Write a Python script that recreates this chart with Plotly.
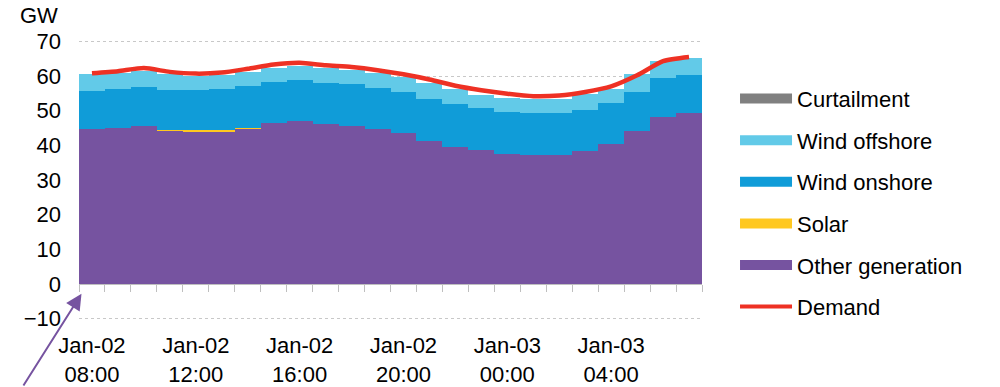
import plotly.graph_objects as go

# Hourly timestamps, Jan-02 08:00 to Jan-03 07:00
hours = [f"Jan-02 {h:02d}:00" for h in range(8, 24)] + [f"Jan-03 {h:02d}:00" for h in range(0, 8)]

# Generation by source (GW)
other_generation = [44.7, 45.0, 45.7, 44.3, 44.0, 43.9, 45.0, 46.4, 46.9, 46.3, 45.7, 44.6,
                    43.5, 41.4, 39.6, 38.8, 37.6, 37.2, 37.2, 38.4, 40.5, 44.1, 48.2, 49.4]
solar = [0.0, 0.0, 0.0, 0.2, 0.4, 0.4, 0.1, 0.0, 0.0, 0.0, 0.0, 0.0,
         0.0, 0.0, 0.0, 0.0, 0.0, 0.0, 0.0, 0.0, 0.0, 0.0, 0.0, 0.0]
wind_onshore = [11.0, 11.2, 11.2, 11.5, 11.6, 12.0, 12.0, 11.9, 11.9, 11.8, 11.9, 11.9,
                11.9, 12.1, 12.2, 11.9, 12.0, 12.2, 12.2, 11.7, 11.7, 11.2, 11.1, 10.9]
wind_offshore = [5.0, 4.6, 4.5, 4.5, 4.0, 4.0, 4.2, 4.1, 4.1, 4.3, 4.2, 4.5,
                 4.3, 4.5, 4.4, 3.9, 4.2, 4.0, 4.1, 4.6, 4.2, 5.2, 4.9, 5.0]
curtailment = [0.0] * 24
demand = [60.8, 61.4, 62.3, 61.2, 60.7, 61.0, 62.1, 63.3, 63.8, 63.1, 62.6, 61.7,
          60.5, 59.0, 57.2, 55.9, 54.9, 54.2, 54.4, 55.4, 57.0, 60.2, 64.3, 65.5]

y_ticks = [-10, 0, 10, 20, 30, 40, 50, 60, 70]
label_every = 4
tick_labels = [h.replace(" ", "<br>") for h in hours[::label_every]]

COLORS = {
    "Curtailment": "#808080",
    "Wind offshore": "#62CAE8",
    "Wind onshore": "#109CD8",
    "Solar": "#FFC820",
    "Other generation": "#7653A0",
    "Demand": "#EE3124",
}
FONT = "Arial, 'Liberation Sans', sans-serif"
FS = 22

fig = go.Figure()

stack = [
    ("Other generation", other_generation),
    ("Solar", solar),
    ("Wind onshore", wind_onshore),
    ("Wind offshore", wind_offshore),
    ("Curtailment", curtailment),
]
for name, vals in stack:
    fig.add_trace(go.Bar(
        x=hours, y=vals, name=name, marker=dict(color=COLORS[name], line=dict(width=0)),
        showlegend=False, xaxis="x", yaxis="y",
    ))

fig.add_trace(go.Scatter(
    x=hours, y=demand, name="Demand", mode="lines",
    line=dict(color=COLORS["Demand"], width=4.5, shape="spline", smoothing=0.6),
    showlegend=False, xaxis="x2", yaxis="y",
))

# Legend entries with wide swatches
legend_order = ["Curtailment", "Wind offshore", "Wind onshore", "Solar", "Other generation", "Demand"]
for i, name in enumerate(legend_order):
    w = 4 if name == "Demand" else 12
    fig.add_trace(go.Scatter(
        x=[None], y=[None], mode="lines", name=name,
        line=dict(color=COLORS[name], width=w),
        legendgroup=f"g{i}", showlegend=True, xaxis="x2", yaxis="y",
    ))

y_min, y_max = y_ticks[0], y_ticks[-1]
pad = 0.4  # keeps the gridlines at the range ends drawn
zero_pos = (0 - (y_min - pad)) / (y_max - y_min + 2 * pad)
x_range = [-0.5, len(hours) - 0.5]

fig.update_layout(
    width=1000, height=387,
    margin=dict(l=79, r=298, t=40, b=67, pad=0, autoexpand=False),
    paper_bgcolor="white", plot_bgcolor="white",
    barmode="stack", bargap=0,
    font=dict(family=FONT, size=FS, color="#000000"),
    xaxis=dict(
        type="category", categoryarray=hours, range=x_range,
        anchor="free", position=zero_pos, automargin=False,
        showline=True, linecolor="#BFBFBF", linewidth=1,
        ticks="outside", tickson="boundaries", ticklen=7, tickcolor="#BFBFBF", tickwidth=1,
        showticklabels=False, showgrid=False, zeroline=False,
    ),
    xaxis2=dict(
        type="category", categoryarray=hours, range=x_range,
        overlaying="x", anchor="y", side="bottom", automargin=False,
        tickmode="array", tickvals=hours[::label_every], ticktext=tick_labels,
        ticks="", showline=False, showgrid=False, zeroline=False,
        ticklabelstandoff=10, tickfont=dict(size=FS),
    ),
    yaxis=dict(
        range=[y_min - pad, y_max + pad], tickmode="array", tickvals=y_ticks, automargin=False,
        showgrid=True, gridcolor="#C8C8C8", griddash="dot", gridwidth=1,
        zeroline=False, showline=False, ticks="", ticklabelstandoff=17,
        tickfont=dict(size=FS),
    ),
    legend=dict(
        x=1.053, xanchor="left", y=0.865, yanchor="top",
        itemwidth=52, tracegroupgap=10, font=dict(size=FS),
        bgcolor="rgba(0,0,0,0)", traceorder="grouped",
        itemclick=False,
    ),
    annotations=[
        dict(text="GW", xref="paper", yref="paper", x=-0.064, y=1.086,
             xanchor="center", yanchor="middle", showarrow=False, font=dict(size=FS)),
        dict(text="", xref="paper", yref="paper", x=0.004, y=0.094,
             ax=-59, ay=94, axref="pixel", ayref="pixel",
             showarrow=True, arrowhead=2, arrowsize=1.6, arrowwidth=2,
             arrowcolor="#7653A0", standoff=0),
    ],
)

fig.write_html("out.html")
